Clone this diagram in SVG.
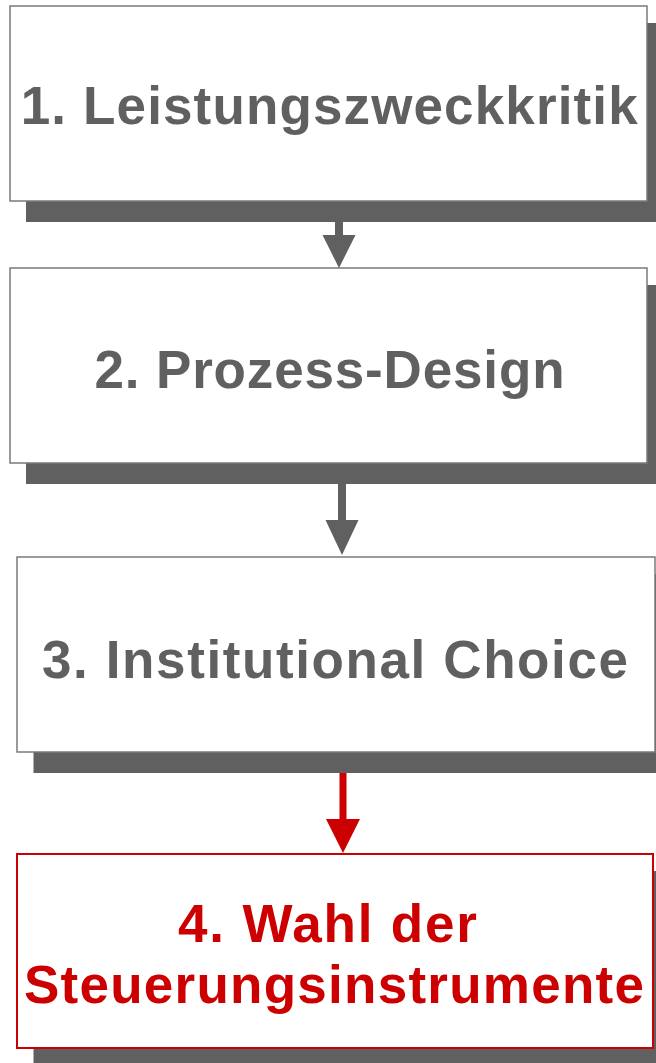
<svg xmlns="http://www.w3.org/2000/svg" width="656" height="1063" viewBox="0 0 656 1063">
<style>
.shadow{fill:#606060}
.box{fill:#ffffff;stroke:#7a7a7a;stroke-width:1.5}
.box.red{stroke:#cc0000;stroke-width:2}
.lbl{font-family:"Liberation Sans",Arial,Helvetica,sans-serif;font-weight:bold;font-size:53px;fill:#606060}
.lbl.red{fill:#cc0000}
.shaft{stroke:#606060;stroke-width:8}
.head{fill:#606060}
.shaft.red{stroke:#cc0000;stroke-width:7}
.head.red{fill:#cc0000}
</style>
<rect width="656" height="1063" fill="#ffffff"/>
<g id="node1">
<rect class="shadow" x="26" y="23" width="632" height="199"/>
<rect class="box" x="10" y="6" width="637" height="195"/>
<text class="lbl" x="20.7" y="124" textLength="617" lengthAdjust="spacing">1. Leistungszweckkritik</text>
</g>
<g id="node2">
<rect class="shadow" x="26" y="285" width="632" height="199"/>
<rect class="box" x="10" y="268" width="637" height="195"/>
<text class="lbl" x="94.5" y="388" textLength="470" lengthAdjust="spacing">2. Prozess-Design</text>
</g>
<g id="node3">
<rect class="shadow" x="33.5" y="574" width="625" height="199"/>
<rect class="box" x="17" y="557" width="638" height="195"/>
<text class="lbl" x="42" y="678" textLength="586" lengthAdjust="spacing">3. Institutional Choice</text>
</g>
<g id="node4">
<rect class="shadow" x="33.5" y="871" width="625" height="195"/>
<rect class="box red" x="17" y="854" width="636" height="194"/>
<text class="lbl red" x="178" y="942" textLength="299" lengthAdjust="spacing">4. Wahl der</text>
<text class="lbl red" x="24" y="1003" textLength="620" lengthAdjust="spacing">Steuerungsinstrumente</text>
</g>
<g id="connectors">
<line class="shaft" x1="339" y1="222" x2="339" y2="236"/>
<polygon class="head" points="322.5,235 355.5,235 339,268"/>
<line class="shaft" x1="342" y1="484" x2="342" y2="521"/>
<polygon class="head" points="325.5,520 358.5,520 342,555"/>
<line class="shaft red" x1="343" y1="773" x2="343" y2="820"/>
<polygon class="head red" points="326,819 360,819 343,853"/>
</g>
</svg>
